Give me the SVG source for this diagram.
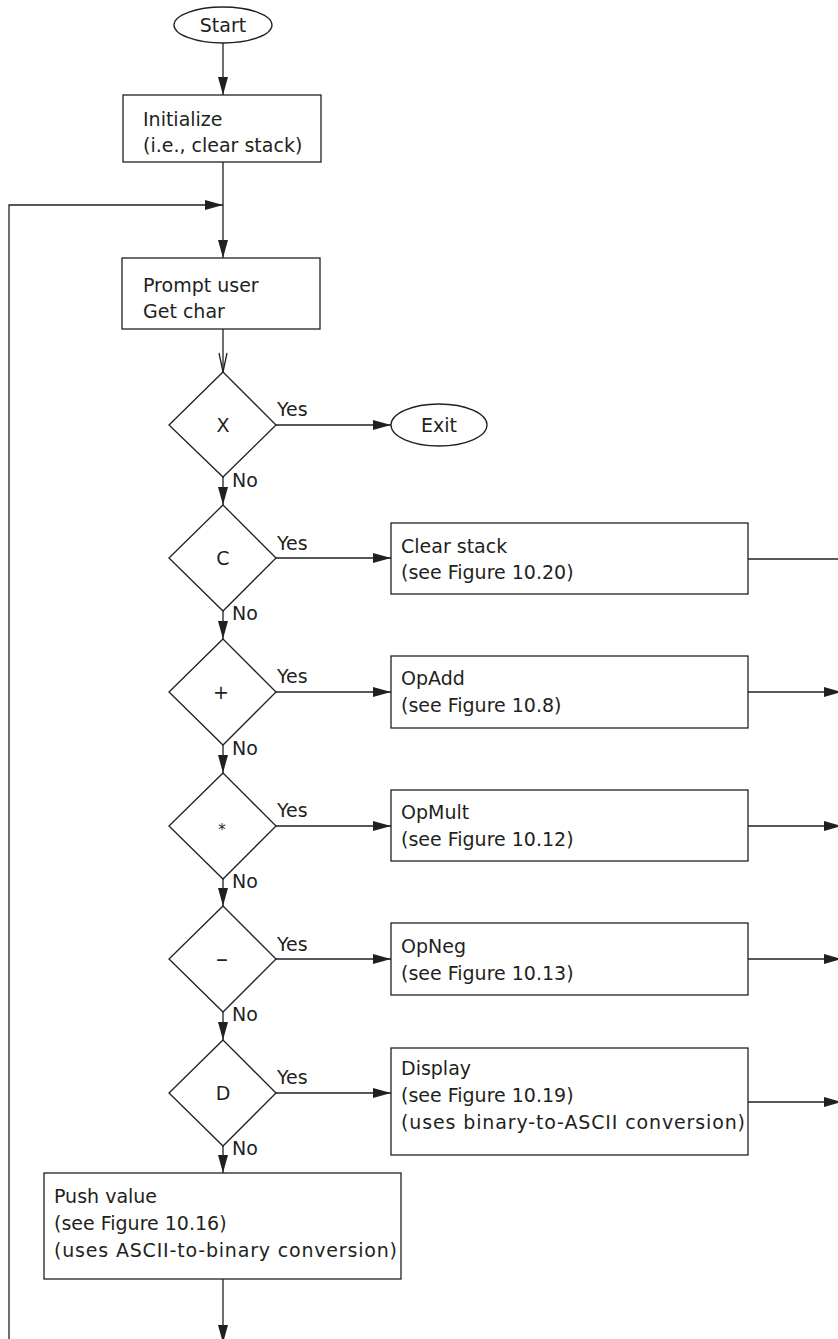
<svg xmlns="http://www.w3.org/2000/svg" width="838" height="1339" viewBox="0 0 838 1339">
<style>
.s{fill:#fff;stroke:#231f20;stroke-width:1.3}
.c{fill:none;stroke:#231f20;stroke-width:1.3}
text{font-family:"DejaVu Sans","Liberation Sans",sans-serif;font-size:19px;fill:#231f20}
.m{text-anchor:middle}
</style>
<defs>
<marker id="a" markerUnits="userSpaceOnUse" markerWidth="18" markerHeight="10" refX="18" refY="5" orient="auto">
<path d="M0,0 L18,5 L0,10 z" fill="#231f20"/>
</marker>
</defs>
<rect width="838" height="1339" fill="#fff"/>
<g id="connectors">
<line class="c" x1="223" y1="43" x2="223" y2="95" marker-end="url(#a)"/>
<line class="c" x1="223" y1="162" x2="223" y2="258" marker-end="url(#a)"/>
<polyline class="c" points="9,1339 9,205 223,205" marker-end="url(#a)"/>
<line class="c" x1="223" y1="329" x2="223" y2="372"/>
<polyline class="c" points="219,353 223,372 227,353"/>
<line class="c" x1="276" y1="425" x2="391" y2="425" marker-end="url(#a)"/>
<line class="c" x1="223" y1="477" x2="223" y2="505" marker-end="url(#a)"/>
<line class="c" x1="276" y1="558" x2="391" y2="558" marker-end="url(#a)"/>
<line class="c" x1="223" y1="611" x2="223" y2="639" marker-end="url(#a)"/>
<line class="c" x1="276" y1="692" x2="391" y2="692" marker-end="url(#a)"/>
<line class="c" x1="223" y1="745" x2="223" y2="773" marker-end="url(#a)"/>
<line class="c" x1="276" y1="826" x2="391" y2="826" marker-end="url(#a)"/>
<line class="c" x1="223" y1="879" x2="223" y2="906" marker-end="url(#a)"/>
<line class="c" x1="276" y1="959" x2="391" y2="959" marker-end="url(#a)"/>
<line class="c" x1="223" y1="1012" x2="223" y2="1040" marker-end="url(#a)"/>
<line class="c" x1="276" y1="1093" x2="391" y2="1093" marker-end="url(#a)"/>
<line class="c" x1="223" y1="1146" x2="223" y2="1173" marker-end="url(#a)"/>
<line class="c" x1="223" y1="1279" x2="223" y2="1343" marker-end="url(#a)"/>
<line class="c" x1="748" y1="559" x2="838" y2="559"/>
<line class="c" x1="748" y1="692" x2="842" y2="692" marker-end="url(#a)"/>
<line class="c" x1="748" y1="826" x2="842" y2="826" marker-end="url(#a)"/>
<line class="c" x1="748" y1="959" x2="842" y2="959" marker-end="url(#a)"/>
<line class="c" x1="748" y1="1102" x2="842" y2="1102" marker-end="url(#a)"/>
<text x="277" y="416">Yes</text>
<text x="232" y="487">No</text>
<text x="277" y="550">Yes</text>
<text x="232" y="620">No</text>
<text x="277" y="683">Yes</text>
<text x="232" y="755">No</text>
<text x="277" y="817">Yes</text>
<text x="232" y="888">No</text>
<text x="277" y="951">Yes</text>
<text x="232" y="1021">No</text>
<text x="277" y="1084">Yes</text>
<text x="232" y="1155">No</text>
</g>
<g id="start">
<ellipse class="s" cx="223" cy="25" rx="49" ry="18"/>
<text class="m" x="223" y="32">Start</text>
</g>
<g id="init">
<rect class="s" x="123" y="95" width="198" height="67"/>
<text x="143" y="126">Initialize</text>
<text x="143" y="152">(i.e., clear stack)</text>
</g>
<g id="prompt">
<rect class="s" x="122" y="258" width="198" height="71"/>
<text x="143" y="292">Prompt user</text>
<text x="143" y="318">Get char</text>
</g>
<g id="dX">
<polygon class="s" points="223,372 276,425 223,477 169,425"/>
<text class="m" x="223" y="432">X</text>
</g>
<g id="exit">
<ellipse class="s" cx="439" cy="425" rx="48" ry="21"/>
<text class="m" x="439" y="432">Exit</text>
</g>
<g id="dC">
<polygon class="s" points="223,505 276,558 223,611 169,558"/>
<text class="m" x="223" y="565">C</text>
</g>
<g id="clear">
<rect class="s" x="391" y="523" width="357" height="71"/>
<text x="401" y="553">Clear stack</text>
<text x="401" y="579">(see Figure 10.20)</text>
</g>
<g id="dPlus">
<polygon class="s" points="223,639 276,692 223,745 169,692"/>
<text class="m" x="221" y="699">+</text>
</g>
<g id="opadd">
<rect class="s" x="391" y="656" width="357" height="72"/>
<text x="401" y="685">OpAdd</text>
<text x="401" y="712">(see Figure 10.8)</text>
</g>
<g id="dMul">
<polygon class="s" points="223,773 276,826 223,879 169,826"/>
<text class="m" x="222" y="835" style="font-size:15px">*</text>
</g>
<g id="opmult">
<rect class="s" x="391" y="790" width="357" height="71"/>
<text x="401" y="819">OpMult</text>
<text x="401" y="846">(see Figure 10.12)</text>
</g>
<g id="dNeg">
<polygon class="s" points="223,906 276,959 223,1012 169,959"/>
<text class="m" x="222" y="967" style="font-size:24px">–</text>
</g>
<g id="opneg">
<rect class="s" x="391" y="923" width="357" height="72"/>
<text x="401" y="953">OpNeg</text>
<text x="401" y="980">(see Figure 10.13)</text>
</g>
<g id="dD">
<polygon class="s" points="223,1040 276,1093 223,1146 169,1093"/>
<text class="m" x="223" y="1100">D</text>
</g>
<g id="display">
<rect class="s" x="391" y="1048" width="357" height="107"/>
<text x="401" y="1075">Display</text>
<text x="401" y="1102">(see Figure 10.19)</text>
<text x="401" y="1129" textLength="344" lengthAdjust="spacing">(uses binary-to-ASCII conversion)</text>
</g>
<g id="push">
<rect class="s" x="44" y="1173" width="357" height="106"/>
<text x="54" y="1203">Push value</text>
<text x="54" y="1230">(see Figure 10.16)</text>
<text x="54" y="1257" textLength="343" lengthAdjust="spacing">(uses ASCII-to-binary conversion)</text>
</g>
</svg>
